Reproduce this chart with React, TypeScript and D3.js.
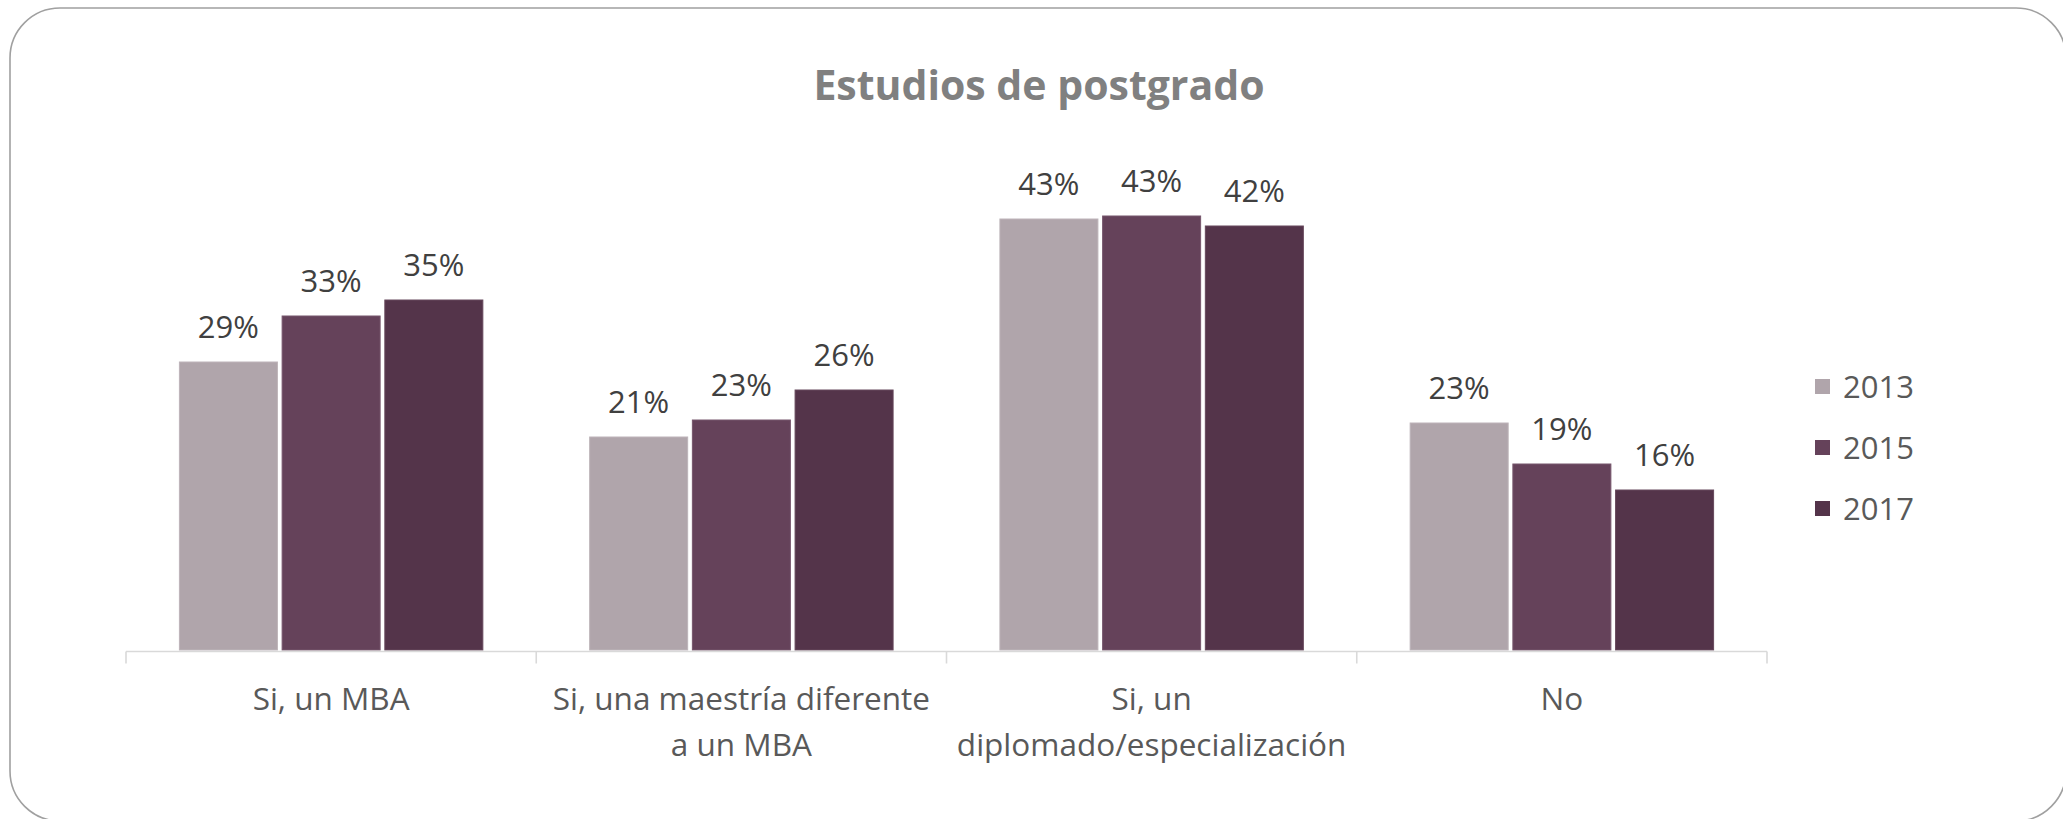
import React from "react";
import * as d3 from "d3";

const categories = ["Si, un MBA", "Si, una maestría diferente a un MBA", "Si, un diplomado/especialización", "No"];
const categoryLines = [["Si, un MBA"], ["Si, una maestría diferente", "a un MBA"], ["Si, un", "diplomado/especialización"], ["No"]];
const seriesNames = ["2013", "2015", "2017"];
const values2013 = [0.288, 0.213, 0.431, 0.227];
const values2015 = [0.334, 0.23, 0.434, 0.186];
const values2017 = [0.35, 0.26, 0.424, 0.16];
const seriesValues = [values2013, values2015, values2017];
const seriesColors = ["#B0A5AB", "#65425A", "#54344A"];
const seriesStrokes = ["#BDB4B9", "#76566C", "#66485C"];
const titleText = "Estudios de postgrado";

const W = 2063;
const H = 819;
const FONT = "'Open Sans', 'Liberation Sans', sans-serif";

export default function App() {
  const x0 = d3.scaleBand<string>().domain(categories).range([126, 1767]).paddingInner(0).paddingOuter(0);
  const x1 = d3.scaleBand<string>().domain(seriesNames).range([0, x0.bandwidth()]).paddingInner(0.0458).paddingOuter(0.52);
  const y = d3.scaleLinear().domain([0, 0.5]).range([650, 150]);
  const fmt = d3.format(".0%");
  const axisY = 651.5;
  const ticks = [...categories.map((c) => x0(c) as number), 1767];
  const legendY = d3.scalePoint<string>().domain(seriesNames).range([387, 509]);

  return (
    <svg width={W} height={H} style={{ position: "absolute", left: 0, top: 0, background: "#fff" }}>
      <rect x={10} y={8} width={2056} height={813} rx={50} ry={50} fill="#fff" stroke="#A0A0A0" strokeWidth={1.6} />
      <text x={1039} y={100} textAnchor="middle" fontFamily={FONT} fontWeight={700} fontSize={41} fill="#808080">
        {titleText}
      </text>
      {seriesNames.map((s, si) =>
        categories.map((c, ci) => {
          const v = seriesValues[si][ci];
          const bx = (x0(c) as number) + (x1(s) as number);
          const bw = x1.bandwidth();
          return (
            <g key={s + c}>
              <rect x={bx} y={y(v)} width={bw} height={y(0) - y(v)} fill={seriesColors[si]} stroke={seriesStrokes[si]} strokeWidth={1} />
              <text x={bx + bw / 2} y={y(v) - 24} textAnchor="middle" fontFamily={FONT} fontSize={31} fill="#404040">
                {fmt(v)}
              </text>
            </g>
          );
        })
      )}
      <line x1={126} x2={1767} y1={axisY} y2={axisY} stroke="#D9D9D9" strokeWidth={1.6} />
      {ticks.map((t, i) => (
        <line key={i} x1={t} x2={t} y1={axisY} y2={axisY + 12} stroke="#D9D9D9" strokeWidth={1.6} />
      ))}
      {categories.map((c, ci) => (
        <text key={c} textAnchor="middle" fontFamily={FONT} fontSize={31.5} fill="#595959">
          {categoryLines[ci].map((ln, li) => (
            <tspan key={li} x={(x0(c) as number) + x0.bandwidth() / 2} y={710 + li * 46}>
              {ln}
            </tspan>
          ))}
        </text>
      ))}
      {seriesNames.map((s, si) => (
        <g key={s}>
          <rect x={1815} y={(legendY(s) as number) - 8} width={15} height={15} fill={seriesColors[si]} />
          <text x={1843} y={(legendY(s) as number) + 10.5} fontFamily={FONT} fontSize={31} fill="#595959">
            {s}
          </text>
        </g>
      ))}
    </svg>
  );
}
